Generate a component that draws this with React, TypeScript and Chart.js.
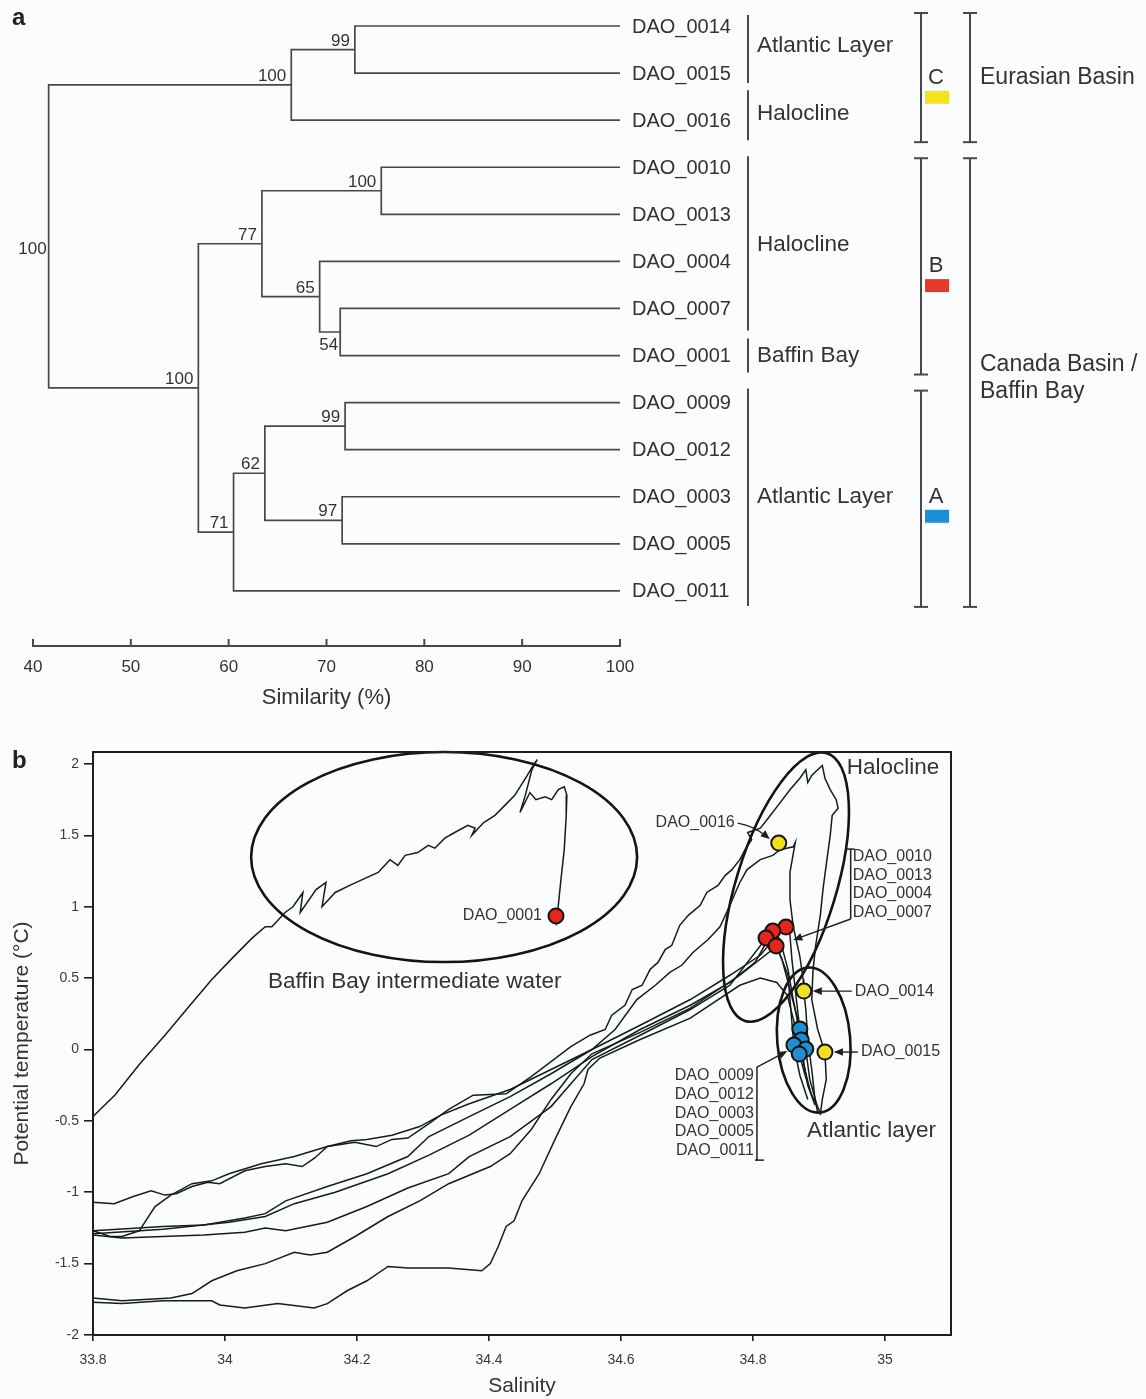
import React, { useEffect, useRef } from "react";
import { Chart, registerables } from "chart.js";

Chart.register(...registerables);

const FONT = "'Liberation Sans', Arial, Helvetica, sans-serif";
const TEXT = "#333333";
const LINE_A = "#484848";
const INK = "#161b1c";

// ---------------- panel a : dendrogram data ----------------
const leafNames = [
  "DAO_0014", "DAO_0015", "DAO_0016", "DAO_0010", "DAO_0013", "DAO_0004", "DAO_0007",
  "DAO_0001", "DAO_0009", "DAO_0012", "DAO_0003", "DAO_0005", "DAO_0011",
];
const similarityTicks = [40, 50, 60, 70, 80, 90, 100];
// internal nodes: similarity (%) at which the two children join
const nodeSimilarity = [72.9, 66.4, 75.6, 71.4, 69.3, 63.4, 71.9, 71.6, 63.7, 60.5, 56.9, 41.6];
const nodeLeft = ["L0", "N0", "L3", "L6", "L5", "N2", "L8", "L10", "N6", "N8", "N5", "N1"];
const nodeRight = ["L1", "L2", "L4", "L7", "N3", "N4", "L9", "L11", "N7", "L12", "N9", "N10"];
const bootstrapValues = [99, 100, 100, 54, 65, 77, 99, 97, 62, 71, 100, 100];
const bootstrapPlacement = ["above", "above", "above", "below", "above", "above", "above", "above", "above", "above", "above", "below"];

const habitatLabels = ["Atlantic Layer", "Halocline", "Halocline", "Baffin Bay", "Atlantic Layer"];
const habitatFirst = [0, 2, 3, 7, 8];
const habitatLast = [1, 2, 6, 7, 12];
const clusterLetters = ["C", "B", "A"];
const clusterFirst = [0, 3, 8];
const clusterLast = [2, 7, 12];
const clusterColors = ["#f3e21c", "#e6392b", "#1d8fd8"];
const basinLabels = [["Eurasian Basin"], ["Canada Basin /", "Baffin Bay"]];
const basinFirst = [0, 3];
const basinLast = [2, 12];

// layout of the panel-a side annotations (pixel offsets / label rows)
const HABITAT_BAR = [
  { top: -11, bottom: 10, textAt: 0.43 },
  { top: -30, bottom: 20, textAt: 1.87 },
  { top: -11, bottom: 22, textAt: 4.65 },
  { top: -17, bottom: 17, textAt: 7 },
  { top: -14, bottom: 15, textAt: 10 },
];
const CLUSTER_BAR = [
  { top: -13, bottom: 22, letterAt: 1.1 },
  { top: -9, bottom: 19, letterAt: 5.1 },
  { top: -12, bottom: 16, letterAt: 10 },
];
const BASIN_TEXT_AT = [[1.1], [7.2, 7.77]];

// ---------------- panel b : T-S diagram data ----------------
const salinityTicks = [33.8, 34, 34.2, 34.4, 34.6, 34.8, 35];
const temperatureTicks = [-2, -1.5, -1, -0.5, 0, 0.5, 1, 1.5, 2];

// Baffin Bay profile (DAO_0001)
const profileBaffin = [
  [33.8, -0.47], [33.833, -0.32], [33.871, -0.1], [33.909, 0.1], [33.947, 0.31], [33.98, 0.49],
  [34.011, 0.64], [34.041, 0.78], [34.061, 0.86], [34.071, 0.86], [34.091, 0.96], [34.103, 1.0],
  [34.118, 1.1], [34.114, 0.96], [34.138, 1.12], [34.153, 1.17], [34.147, 1.0], [34.167, 1.1],
  [34.189, 1.15], [34.208, 1.19], [34.232, 1.24], [34.25, 1.33], [34.262, 1.29], [34.273, 1.36],
  [34.292, 1.38], [34.308, 1.43], [34.318, 1.41], [34.333, 1.48], [34.348, 1.52], [34.368, 1.57],
  [34.379, 1.55], [34.374, 1.5], [34.392, 1.59], [34.409, 1.64], [34.424, 1.71], [34.439, 1.78],
  [34.458, 1.92], [34.467, 1.99], [34.473, 2.03], [34.465, 1.96], [34.455, 1.78], [34.447, 1.66],
  [34.462, 1.8], [34.471, 1.75], [34.485, 1.77], [34.495, 1.75], [34.505, 1.82], [34.514, 1.84],
  [34.518, 1.78], [34.517, 1.64], [34.514, 1.4], [34.509, 1.19], [34.505, 1.01], [34.502, 0.87],
];
// Eurasian Basin profiles
const profileEurasian1 = [
  [33.8, -1.07], [33.832, -1.08], [33.861, -1.03], [33.888, -0.99], [33.909, -1.02], [33.926, -1.01],
  [33.95, -0.96], [33.974, -0.93], [33.992, -0.94], [34.03, -0.85], [34.061, -0.82], [34.092, -0.8],
  [34.117, -0.82], [34.136, -0.76], [34.155, -0.68], [34.197, -0.65], [34.229, -0.68], [34.253, -0.63],
  [34.277, -0.62], [34.309, -0.52], [34.339, -0.42], [34.376, -0.32], [34.426, -0.31], [34.464, -0.19],
  [34.524, 0.02], [34.553, 0.1], [34.576, 0.14], [34.586, 0.24], [34.606, 0.31], [34.617, 0.42],
  [34.632, 0.45], [34.644, 0.56], [34.656, 0.61], [34.667, 0.7], [34.677, 0.73], [34.689, 0.87],
  [34.702, 0.94], [34.72, 1.01], [34.73, 1.1], [34.747, 1.15], [34.758, 1.22], [34.768, 1.26],
  [34.78, 1.33], [34.788, 1.4], [34.798, 1.47], [34.792, 1.52], [34.811, 1.55], [34.823, 1.62],
  [34.838, 1.71], [34.856, 1.82], [34.871, 1.9], [34.88, 1.96], [34.883, 1.87], [34.889, 1.92],
  [34.898, 1.96], [34.905, 1.99], [34.909, 1.9], [34.917, 1.82], [34.926, 1.75], [34.929, 1.69],
  [34.92, 1.64], [34.917, 1.5], [34.912, 1.33], [34.906, 1.12], [34.902, 0.94], [34.895, 0.73],
  [34.891, 0.56], [34.889, 0.35], [34.898, 0.14], [34.909, -0.02], [34.911, -0.21], [34.905, -0.35],
  [34.902, -0.46],
];
const profileEurasian2 = [
  [33.8, -1.27], [33.826, -1.31], [33.844, -1.31], [33.87, -1.27], [33.894, -1.1], [33.918, -1.02],
  [33.95, -0.94], [33.98, -0.92], [34.006, -0.87], [34.055, -0.8], [34.105, -0.75], [34.155, -0.68],
  [34.191, -0.64], [34.215, -0.63], [34.253, -0.6], [34.295, -0.54], [34.327, -0.46], [34.37, -0.38],
  [34.432, -0.28], [34.494, -0.14], [34.556, 0.0], [34.591, 0.14], [34.624, 0.35], [34.652, 0.45],
  [34.674, 0.54], [34.692, 0.59], [34.709, 0.68], [34.732, 0.77], [34.75, 0.86], [34.765, 1.01],
  [34.78, 1.17], [34.791, 1.26], [34.811, 1.33], [34.83, 1.36], [34.841, 1.4], [34.861, 1.42],
  [34.864, 1.45], [34.856, 1.24], [34.856, 1.05], [34.861, 0.86], [34.871, 0.65], [34.876, 0.49],
  [34.877, 0.41], [34.88, 0.28], [34.883, 0.07], [34.889, -0.14], [34.894, -0.35], [34.898, -0.44],
];
// Canada Basin profiles
const profileCanada1 = [
  [33.8, -1.27], [33.906, -1.24], [33.968, -1.23], [34.03, -1.18], [34.061, -1.15], [34.092, -1.06],
  [34.155, -0.96], [34.215, -0.87], [34.277, -0.75], [34.309, -0.61], [34.37, -0.47], [34.432, -0.33],
  [34.494, -0.17], [34.556, 0.0], [34.629, 0.17], [34.705, 0.35], [34.765, 0.52], [34.811, 0.66],
  [34.848, 0.86], [34.856, 0.8], [34.859, 0.63], [34.864, 0.42], [34.871, 0.14], [34.876, -0.07],
  [34.883, -0.25], [34.894, -0.39],
];
const profileCanada2 = [
  [33.8, -1.29], [33.906, -1.26], [34.006, -1.21], [34.061, -1.17], [34.105, -1.08], [34.167, -1.0],
  [34.247, -0.87], [34.309, -0.74], [34.37, -0.6], [34.432, -0.42], [34.494, -0.24], [34.556, -0.05],
  [34.629, 0.14], [34.705, 0.31], [34.765, 0.47], [34.803, 0.61], [34.83, 0.83], [34.841, 0.77],
  [34.853, 0.56], [34.861, 0.35], [34.873, 0.06], [34.877, -0.11], [34.886, -0.28],
];
const profileCanada3 = [
  [33.8, -1.3], [33.844, -1.32], [33.906, -1.31], [33.968, -1.3], [34.03, -1.28], [34.061, -1.25],
  [34.092, -1.27], [34.155, -1.21], [34.215, -1.1], [34.277, -0.97], [34.339, -0.87], [34.37, -0.75],
  [34.432, -0.61], [34.494, -0.4], [34.524, -0.24], [34.556, -0.07], [34.629, 0.1], [34.705, 0.28],
  [34.765, 0.45], [34.82, 0.78], [34.838, 0.7], [34.853, 0.52], [34.862, 0.02], [34.871, -0.18],
  [34.883, -0.35],
];
const profileCanada4 = [
  [33.8, -1.74], [33.844, -1.76], [33.918, -1.74], [33.95, -1.71], [33.98, -1.62], [34.018, -1.55],
  [34.061, -1.5], [34.105, -1.42], [34.129, -1.44], [34.155, -1.42], [34.197, -1.31], [34.247, -1.17],
  [34.295, -1.06], [34.339, -0.94], [34.402, -0.82], [34.432, -0.73], [34.464, -0.56], [34.494, -0.35],
  [34.524, -0.17], [34.556, -0.03], [34.629, 0.12], [34.705, 0.29], [34.78, 0.52], [34.835, 0.72],
  [34.844, 0.63], [34.856, 0.42], [34.88, 0.0], [34.886, -0.21], [34.898, -0.41],
];
const profileCanada5 = [
  [33.8, -1.77], [33.844, -1.78], [33.906, -1.76], [33.98, -1.76], [33.992, -1.79], [34.03, -1.81],
  [34.08, -1.78], [34.135, -1.81], [34.155, -1.78], [34.185, -1.69], [34.215, -1.62], [34.247, -1.52],
  [34.277, -1.53], [34.339, -1.53], [34.389, -1.55], [34.402, -1.5], [34.414, -1.38], [34.426, -1.24],
  [34.438, -1.2], [34.45, -1.06], [34.476, -0.87], [34.5, -0.63], [34.524, -0.4], [34.544, -0.24],
  [34.55, -0.14], [34.568, -0.06], [34.629, 0.07], [34.705, 0.22], [34.78, 0.45], [34.811, 0.5],
  [34.836, 0.47], [34.852, 0.38], [34.864, 0.16], [34.87, -0.03], [34.879, -0.18], [34.889, -0.32],
  [34.902, -0.44],
];
const profiles = [
  profileBaffin, profileEurasian1, profileEurasian2,
  profileCanada1, profileCanada2, profileCanada3, profileCanada4, profileCanada5,
];

// sample positions
const samplesBaffin = [[34.5015, 0.935]]; // DAO_0001
const samplesEurasian = [[34.839, 1.446], [34.877, 0.409], [34.909, -0.018]]; // DAO_0016, DAO_0014, DAO_0015
const samplesHalocline = [[34.85, 0.858], [34.83, 0.83], [34.8197, 0.781], [34.835, 0.725]];
const samplesAtlantic = [[34.871, 0.143], [34.873, 0.066], [34.862, 0.031], [34.88, 0.003], [34.87, -0.032]];

const haloclineGroup = ["DAO_0010", "DAO_0013", "DAO_0004", "DAO_0007"];
const atlanticGroup = ["DAO_0009", "DAO_0012", "DAO_0003", "DAO_0005", "DAO_0011"];

// annotation geometry for panel b (anchors in data units, sizes in px)
const ELLIPSES = [
  { s: 34.332, t: 1.348, rx: 193, ry: 105, rot: 0 },
  { s: 34.85, t: 1.138, rx: 50, ry: 140, rot: 17 },
  { s: 34.892, t: 0.066, rx: 36.5, ry: 72.7, rot: -4.7 },
];

// ---------------- helpers ----------------
function text(ctx: any, s: string, x: number, y: number, size: number, align = "left", baseline = "middle", weight = "normal", color = TEXT) {
  ctx.save();
  ctx.font = `${weight} ${size}px ${FONT}`;
  ctx.fillStyle = color;
  ctx.textAlign = align;
  ctx.textBaseline = baseline;
  ctx.fillText(s, x, y);
  ctx.restore();
}
function seg(ctx: any, x1: number, y1: number, x2: number, y2: number, w: number, color: string) {
  ctx.save();
  ctx.strokeStyle = color;
  ctx.lineWidth = w;
  ctx.beginPath();
  ctx.moveTo(x1, y1);
  ctx.lineTo(x2, y2);
  ctx.stroke();
  ctx.restore();
}
function arrowHead(ctx: any, fx: number, fy: number, tx: number, ty: number, color: string) {
  const a = Math.atan2(ty - fy, tx - fx);
  const L = 9, W = 3.8;
  ctx.save();
  ctx.fillStyle = color;
  ctx.beginPath();
  ctx.moveTo(tx, ty);
  ctx.lineTo(tx - L * Math.cos(a) + W * Math.sin(a), ty - L * Math.sin(a) - W * Math.cos(a));
  ctx.lineTo(tx - L * Math.cos(a) - W * Math.sin(a), ty - L * Math.sin(a) + W * Math.cos(a));
  ctx.closePath();
  ctx.fill();
  ctx.restore();
}
function arrow(ctx: any, x1: number, y1: number, x2: number, y2: number, color = "#1e1e1e") {
  seg(ctx, x1, y1, x2 - (x2 - x1) * 0.05, y2 - (y2 - y1) * 0.05, 1.4, color);
  arrowHead(ctx, x1, y1, x2, y2, color);
}
function bracket(ctx: any, x: number, y1: number, y2: number, color: string) {
  seg(ctx, x, y1, x, y2, 2, color);
  seg(ctx, x - 7, y1, x + 7, y1, 2, color);
  seg(ctx, x - 7, y2, x + 7, y2, 2, color);
}

function nodePos(id: string): { x: number; y: number } {
  const k = parseInt(id.slice(1), 10);
  if (id[0] === "L") return { x: 100, y: k };
  const a = nodePos(nodeLeft[k]);
  const b = nodePos(nodeRight[k]);
  return { x: nodeSimilarity[k], y: (a.y + b.y) / 2 };
}

// ---------------- panel a config ----------------
function buildDendrogram(): any {
  const datasets = nodeSimilarity.map((s, k) => {
    const a = nodePos(nodeLeft[k]);
    const b = nodePos(nodeRight[k]);
    return {
      type: "scatter",
      data: [
        { x: a.x, y: a.y },
        { x: s, y: a.y },
        { x: s, y: b.y },
        { x: b.x, y: b.y },
      ],
      showLine: true,
      borderColor: LINE_A,
      borderWidth: 1.7,
      pointRadius: 0,
      tension: 0,
    };
  });

  const plugin = {
    id: "dendroAnnot",
    afterDraw(chart: any) {
      const ctx = chart.ctx;
      const X = (v: number) => chart.scales.x.getPixelForValue(v);
      const Y = (v: number) => chart.scales.y.getPixelForValue(v);
      const axisY = chart.chartArea.bottom;
      for (const v of similarityTicks) seg(ctx, X(v), axisY + 1, X(v), axisY - 7, 2, LINE_A);

      nodeSimilarity.forEach((s, k) => {
        const p = nodePos("N" + k);
        const below = bootstrapPlacement[k] === "below";
        text(ctx, String(bootstrapValues[k]), X(s) - (below ? 2 : 5), Y(p.y) + (below ? 18 : -4), 17, "right", "alphabetic");
      });

      const xEnd = X(100);
      leafNames.forEach((n, i) => text(ctx, n, xEnd + 12, Y(i) + 1, 20, "left", "middle"));

      const hx = xEnd + 128;
      habitatLabels.forEach((lab, g) => {
        const c = HABITAT_BAR[g];
        seg(ctx, hx, Y(habitatFirst[g]) + c.top, hx, Y(habitatLast[g]) + c.bottom, 2, LINE_A);
        text(ctx, lab, hx + 9, Y(c.textAt), 22.5, "left", "middle");
      });

      const cx = xEnd + 301;
      clusterLetters.forEach((L, g) => {
        const c = CLUSTER_BAR[g];
        bracket(ctx, cx, Y(clusterFirst[g]) + c.top, Y(clusterLast[g]) + c.bottom, LINE_A);
        text(ctx, L, cx + 15, Y(c.letterAt), 22, "center", "middle");
        ctx.save();
        ctx.fillStyle = clusterColors[g];
        ctx.fillRect(cx + 4, Y(c.letterAt) + 13, 24, 13);
        ctx.restore();
      });

      const bx = xEnd + 350;
      basinLabels.forEach((lines, g) => {
        const c = CLUSTER_BAR[g === 0 ? 0 : 1];
        const bottom = g === 0 ? CLUSTER_BAR[0].bottom : CLUSTER_BAR[2].bottom;
        bracket(ctx, bx, Y(basinFirst[g]) + c.top, Y(basinLast[g]) + bottom, LINE_A);
        lines.forEach((ln, j) => text(ctx, ln, bx + 10, Y(BASIN_TEXT_AT[g][j]), 23, "left", "middle"));
      });

      text(ctx, "a", 12, 25, 24, "left", "alphabetic", "bold", "#222");
    },
  };

  return {
    type: "scatter",
    data: { datasets },
    plugins: [plugin],
    options: {
      animation: false,
      responsive: false,
      maintainAspectRatio: false,
      events: [],
      layout: { padding: { left: 33, right: 526, top: 10, bottom: 0 } },
      plugins: { legend: { display: false }, tooltip: { enabled: false } },
      scales: {
        x: {
          type: "linear",
          position: "bottom",
          min: 40,
          max: 100,
          afterBuildTicks: (s: any) => {
            s.ticks = similarityTicks.map((v) => ({ value: v }));
          },
          afterFit: (s: any) => {
            s.height = 74;
          },
          grid: { display: false, drawTicks: false },
          border: { display: true, color: LINE_A, width: 2 },
          ticks: {
            font: { family: FONT, size: 17 },
            color: TEXT,
            padding: 11,
            maxRotation: 0,
            autoSkip: false,
            callback: (v: any) => String(v),
          },
          title: {
            display: true,
            text: "Similarity (%)",
            font: { family: FONT, size: 22 },
            color: TEXT,
            padding: { top: 0, bottom: 9 },
          },
        },
        y: { type: "linear", min: -0.34, max: 13.17, reverse: true, display: false },
      },
    },
  };
}

// ---------------- panel b config ----------------
function buildTS(): any {
  const pointSet = (pts: number[][], color: string) => ({
    type: "scatter",
    data: pts.map(([x, y]) => ({ x, y })),
    showLine: false,
    pointRadius: 7.5,
    pointBackgroundColor: color,
    pointBorderColor: "#141414",
    pointBorderWidth: 2,
    order: 0,
  });
  const datasets: any[] = [
    pointSet(samplesBaffin, "#e4261c"),
    pointSet(samplesHalocline, "#e4261c"),
    pointSet(samplesAtlantic, "#1d8fd2"),
    pointSet(samplesEurasian, "#f2e01c"),
    ...profiles.map((p) => ({
      type: "scatter",
      data: p.map(([x, y]) => ({ x, y })),
      showLine: true,
      borderColor: INK,
      borderWidth: 1.5,
      pointRadius: 0,
      tension: 0,
      order: 2,
    })),
  ];

  const plugin = {
    id: "tsAnnot",
    beforeDatasetsDraw(chart: any) {
      const ctx = chart.ctx;
      const X = (v: number) => chart.scales.x.getPixelForValue(v);
      const Y = (v: number) => chart.scales.y.getPixelForValue(v);
      ctx.save();
      ctx.strokeStyle = "#141414";
      ctx.lineWidth = 2.6;
      for (const e of ELLIPSES) {
        ctx.beginPath();
        ctx.ellipse(X(e.s), Y(e.t), e.rx, e.ry, (e.rot * Math.PI) / 180, 0, Math.PI * 2);
        ctx.stroke();
      }
      ctx.restore();
    },
    afterDraw(chart: any) {
      const ctx = chart.ctx;
      const X = (v: number) => chart.scales.x.getPixelForValue(v);
      const Y = (v: number) => chart.scales.y.getPixelForValue(v);
      const { left, right, top, bottom } = chart.chartArea;
      // frame
      seg(ctx, left - 1, top, right + 1, top, 2, "#1e1e1e");
      seg(ctx, right, top - 1, right, bottom + 1, 2, "#1e1e1e");

      const DAO = 16;
      // DAO_0001
      const p1 = samplesBaffin[0];
      text(ctx, "DAO_0001", X(p1[0]) - 14, Y(p1[1]), DAO, "right", "middle");
      // DAO_0016
      const p16 = samplesEurasian[0];
      const x16 = X(p16[0]), y16 = Y(p16[1]);
      text(ctx, "DAO_0016", x16 - 44, y16 - 20, DAO, "right", "middle");
      ctx.save();
      ctx.strokeStyle = "#1e1e1e";
      ctx.lineWidth = 1.4;
      ctx.beginPath();
      ctx.moveTo(x16 - 41, y16 - 20);
      ctx.quadraticCurveTo(x16 - 24, y16 - 17, x16 - 13, y16 - 7);
      ctx.stroke();
      ctx.restore();
      arrowHead(ctx, x16 - 22, y16 - 15, x16 - 9, y16 - 4, "#1e1e1e");
      // DAO_0014
      const p14 = samplesEurasian[1];
      const x14 = X(p14[0]), y14 = Y(p14[1]);
      arrow(ctx, x14 + 48, y14, x14 + 9, y14);
      text(ctx, "DAO_0014", x14 + 51, y14, DAO, "left", "middle");
      // DAO_0015
      const p15 = samplesEurasian[2];
      const x15 = X(p15[0]), y15 = Y(p15[1]);
      arrow(ctx, x15 + 33, y15, x15 + 9, y15);
      text(ctx, "DAO_0015", x15 + 36, y15, DAO, "left", "middle");

      // halocline group bracket
      const hbx = X(34.948), hTop = Y(1.404), hBot = Y(0.914);
      seg(ctx, hbx, hTop, hbx, hBot, 1.5, "#1e1e1e");
      seg(ctx, hbx - 4, hTop, hbx + 4, hTop, 1.5, "#1e1e1e");
      haloclineGroup.forEach((n, i) => text(ctx, n, hbx + 2, hTop + 8 + i * 18.5, DAO, "left", "middle"));
      arrow(ctx, hbx, hBot, X(34.861), Y(0.767));

      // atlantic group bracket
      const abx = X(34.806), aTop = Y(-0.123), aBot = Y(-0.775);
      seg(ctx, abx, aTop, abx, aBot, 1.5, "#1e1e1e");
      seg(ctx, abx - 2, aBot, abx + 7, aBot, 1.5, "#1e1e1e");
      atlanticGroup.forEach((n, i) => text(ctx, n, abx - 3, aTop + 9 + i * 18.6, DAO, "right", "middle"));
      arrow(ctx, abx, aTop, X(34.852), Y(-0.011));

      // region labels
      text(ctx, "Halocline", X(34.942), Y(1.972), 22.5, "left", "middle");
      text(ctx, "Atlantic layer", X(34.882), Y(-0.572), 22.5, "left", "middle");
      text(ctx, "Baffin Bay intermediate water", X(34.065), Y(0.472), 22.5, "left", "middle");

      text(ctx, "b", 12, 48, 24, "left", "alphabetic", "bold", "#222");
    },
  };

  const axisCommon = {
    grid: { display: true, drawOnChartArea: false, drawTicks: true, color: "#1e1e1e", lineWidth: 1.6 },
    border: { display: true, color: "#1e1e1e", width: 2 },
  };

  return {
    type: "scatter",
    data: { datasets },
    plugins: [plugin],
    options: {
      animation: false,
      responsive: false,
      maintainAspectRatio: false,
      events: [],
      layout: { padding: { left: 0, right: 195, top: 32, bottom: 0 } },
      plugins: { legend: { display: false }, tooltip: { enabled: false } },
      scales: {
        x: {
          type: "linear",
          position: "bottom",
          min: 33.8,
          max: 35.1,
          afterBuildTicks: (s: any) => {
            s.ticks = salinityTicks.map((v) => ({ value: v }));
          },
          afterFit: (s: any) => {
            s.height = 64;
          },
          ...axisCommon,
          grid: { ...axisCommon.grid, tickLength: 6 },
          ticks: {
            font: { family: FONT, size: 14 },
            color: "#3a3a3a",
            padding: 11,
            maxRotation: 0,
            autoSkip: false,
            callback: (v: any) => String(v),
          },
          title: {
            display: true,
            text: "Salinity",
            font: { family: FONT, size: 21 },
            color: TEXT,
            padding: { top: 0, bottom: 0 },
          },
        },
        y: {
          type: "linear",
          position: "left",
          min: -2,
          max: 2.084,
          afterBuildTicks: (s: any) => {
            s.ticks = temperatureTicks.map((v) => ({ value: v }));
          },
          afterFit: (s: any) => {
            s.width = 93;
          },
          ...axisCommon,
          grid: { ...axisCommon.grid, tickLength: 9 },
          ticks: {
            font: { family: FONT, size: 14 },
            color: "#3a3a3a",
            padding: 5,
            autoSkip: false,
            callback: (v: any) => String(v),
          },
          title: {
            display: true,
            text: "Potential temperature (°C)",
            font: { family: FONT, size: 21 },
            color: TEXT,
            padding: { top: 10, bottom: 0 },
          },
        },
      },
    },
  };
}

export default function App() {
  const refA = useRef<HTMLCanvasElement>(null);
  const refB = useRef<HTMLCanvasElement>(null);
  useEffect(() => {
    const a = new Chart(refA.current as HTMLCanvasElement, buildDendrogram());
    const b = new Chart(refB.current as HTMLCanvasElement, buildTS());
    return () => {
      a.destroy();
      b.destroy();
    };
  }, []);
  return (
    <div style={{ position: "absolute", left: 0, top: 0, width: 1146, height: 1399, background: "#fbfcfd", overflow: "hidden" }}>
      <canvas ref={refA} width={1146} height={720} style={{ position: "absolute", left: 0, top: 0, width: 1146, height: 720 }} />
      <canvas ref={refB} width={1146} height={679} style={{ position: "absolute", left: 0, top: 720, width: 1146, height: 679 }} />
    </div>
  );
}
